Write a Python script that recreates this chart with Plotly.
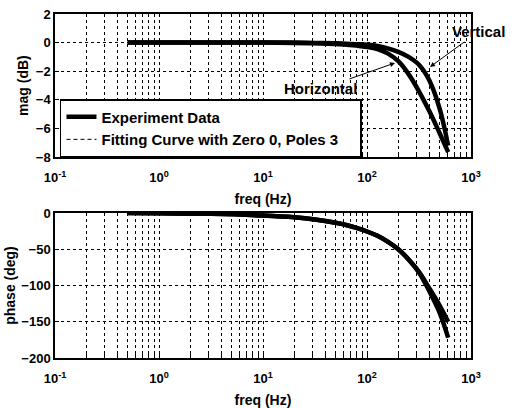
import plotly.graph_objects as go
from plotly.subplots import make_subplots

# ---- data ----
freq = [0.5, 1, 3.16, 10, 20, 31.6, 50, 63, 79, 100, 126, 158, 200, 251, 316, 398, 501, 603]

mag_horizontal = [0, 0, 0, 0, -0.02, -0.05, -0.1, -0.15, -0.21, -0.3, -0.45, -0.75, -1.3, -2.2, -3.4, -4.8, -6.35, -7.65]
mag_vertical = [0, 0, 0, 0, 0, -0.02, -0.05, -0.08, -0.11, -0.15, -0.23, -0.4, -0.65, -1.0, -1.55, -2.65, -4.65, -7.2]

phase_horizontal = [0, -0.4, -1.2, -3.5, -6, -9, -13.5, -16.5, -20.5, -25.5, -31.5, -39.5, -50, -64, -82, -108, -138, -172]
phase_vertical = [0, -0.4, -1.2, -3.5, -6, -9, -13.5, -16.5, -20.5, -25.5, -31.5, -39.5, -50, -64, -81, -104, -128, -150]

# fitted model curves (lie underneath the measured curves)
fit_mag_horizontal = mag_horizontal
fit_mag_vertical = mag_vertical
fit_phase_horizontal = phase_horizontal
fit_phase_vertical = phase_vertical

decade_labels = ["10<sup>-1</sup>", "10<sup>0</sup>", "10<sup>1</sup>", "10<sup>2</sup>", "10<sup>3</sup>"]
mag_ticks = [2, 0, -2, -4, -6, -8]
phase_ticks = [0, -50, -100, -150, -200]
legend_names = ["Experiment Data", "Fitting Curve with Zero 0, Poles 3"]

# grid positions for log axis (1..9 per decade)
tickvals = []
ticktext = []
for d in range(-1, 3):
    for m in range(1, 10):
        tickvals.append(m * 10.0 ** d)
        ticktext.append(decade_labels[d + 1] if m == 1 else "")
tickvals.append(1000.0)
ticktext.append(decade_labels[-1])

FONT = "Liberation Sans, Arial, sans-serif"

def bold(size):
    return dict(size=size, color="black", family=FONT, weight="bold")

fig = make_subplots(rows=2, cols=1, vertical_spacing=0.0)

thick = dict(color="black", width=4.5, shape="spline")
thin = dict(color="black", width=1, dash="4px,3px", shape="spline")
pad = "\u00a0" * 4

fig.add_trace(go.Scatter(x=freq, y=mag_horizontal, mode="lines", line=thick,
                         name=legend_names[0], legendgroup="exp", showlegend=True), 1, 1)
fig.add_trace(go.Scatter(x=freq, y=mag_vertical, mode="lines", line=thick,
                         name=legend_names[0], legendgroup="exp", showlegend=False), 1, 1)
fig.add_trace(go.Scatter(x=freq, y=fit_mag_horizontal, mode="lines", line=thin,
                         name=legend_names[1] + pad, legendgroup="fit", showlegend=True), 1, 1)
fig.add_trace(go.Scatter(x=freq, y=fit_mag_vertical, mode="lines", line=thin,
                         name=legend_names[1], legendgroup="fit", showlegend=False), 1, 1)

fig.add_trace(go.Scatter(x=freq, y=phase_horizontal, mode="lines", line=thick,
                         legendgroup="exp", showlegend=False), 2, 1)
fig.add_trace(go.Scatter(x=freq, y=phase_vertical, mode="lines", line=thick,
                         legendgroup="exp", showlegend=False), 2, 1)
fig.add_trace(go.Scatter(x=freq, y=fit_phase_horizontal, mode="lines", line=thin,
                         legendgroup="fit", showlegend=False), 2, 1)
fig.add_trace(go.Scatter(x=freq, y=fit_phase_vertical, mode="lines", line=thin,
                         legendgroup="fit", showlegend=False), 2, 1)

xcommon = dict(type="log", range=[-1, 3], tickvals=tickvals, ticktext=ticktext,
               showgrid=True, gridcolor="black", gridwidth=1, griddash="dot",
               showline=True, linecolor="black", linewidth=1.5, mirror=True,
               ticks="inside", ticklen=4, tickcolor="black",
               tickfont=bold(13), ticklabelstandoff=8, zeroline=False, automargin=False,
               title=dict(text="freq (Hz)", font=bold(14), standoff=10))
fig.update_xaxes(**xcommon, row=1, col=1)
fig.update_xaxes(**xcommon, row=2, col=1)

ycommon = dict(showgrid=True, gridcolor="black", gridwidth=1, griddash="dot",
               showline=True, linecolor="black", linewidth=1.5, mirror=True,
               ticks="inside", ticklen=4, tickcolor="black", zeroline=False,
               automargin=False, tickfont=bold(13))
fig.update_yaxes(**ycommon, range=[-8, 2], tickvals=mag_ticks,
                 title=dict(text="mag (dB)", font=bold(14), standoff=4),
                 row=1, col=1)
fig.update_yaxes(**ycommon, range=[-200, 0], tickvals=phase_ticks,
                 title=dict(text="phase (deg)", font=bold(14), standoff=2),
                 row=2, col=1)

fig.update_layout(
    width=516, height=408,
    margin=dict(l=55, r=45, t=14, b=50, autoexpand=False),
    paper_bgcolor="white", plot_bgcolor="white",
    font=dict(family=FONT, size=13, color="black", weight="bold"),
    xaxis=dict(domain=[0, 1]),
    yaxis=dict(domain=[0.584, 1.0]),
    yaxis2=dict(domain=[0.0, 0.4215]),
    showlegend=True,
    legend=dict(x=0.012, y=0.584, xanchor="left", yanchor="bottom",
                bgcolor="white", bordercolor="black", borderwidth=1.5,
                font=bold(15), tracegroupgap=0, itemwidth=30),
    annotations=[
        dict(x=2.606, y=-1.7, xref="x", yref="y", text="Vertical", showarrow=True,
             ax=48, ay=-35, arrowhead=2, arrowsize=1, arrowwidth=1, arrowcolor="black",
             font=bold(15)),
        dict(x=2.269, y=-1.42, xref="x", yref="y", text="Horizontal", showarrow=True,
             ax=-74, ay=26, arrowhead=2, arrowsize=1, arrowwidth=1, arrowcolor="black",
             font=bold(15)),
    ],
)

fig.write_html("out.html", config={"displayModeBar": False},
               post_script="document.body.style.margin='0';document.body.style.overflow='hidden';")
